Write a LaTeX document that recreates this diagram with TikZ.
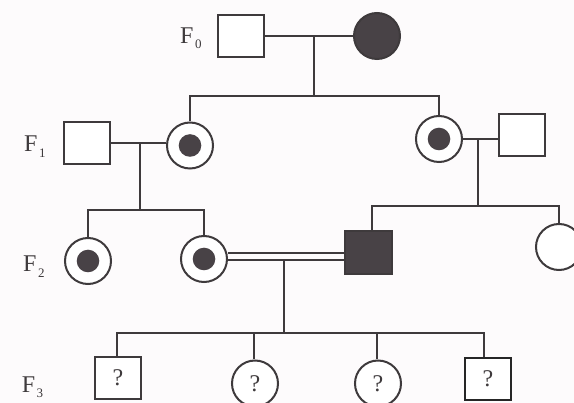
\documentclass[tikz,border=0pt]{standalone}
\usepackage{fontspec}
\setmainfont{Liberation Serif}
\definecolor{ln}{RGB}{62,58,60}
\definecolor{aff}{RGB}{72,66,70}
\definecolor{bg}{RGB}{253,251,252}
\newcommand{\gensub}[1]{F\kern1.5pt\raisebox{-5.5pt}{\fontsize{13}{13}\selectfont #1}}
\tikzset{
  ped/.style={draw=ln, line width=2pt},
  male/.style={ped, rectangle, minimum width=46pt, minimum height=42pt, inner sep=0pt, fill=white,
    font=\fontsize{24}{24}\selectfont, text=ln},
  female/.style={ped, circle, minimum size=46pt, inner sep=0pt, fill=white,
    font=\fontsize{24}{24}\selectfont, text=ln},
  affm/.style={male, fill=aff},
  afff/.style={female, fill=aff},
  carrier/.style={female, path picture={\fill[aff] (path picture bounding box.center) circle (11.3pt);}},
  conn/.style={draw=ln, line width=2pt},
  dbl/.style={draw=ln, line width=2pt, double=bg, double distance=5pt},
  gen/.style={anchor=base west, inner sep=0pt, font=\fontsize{24}{24}\selectfont, text=ln}
}
\begin{document}
\begin{tikzpicture}[x=1pt, y=-1pt]
  \useasboundingbox (0,0) rectangle (574,403);
  \fill[bg] (0,0) rectangle (574,403);

  % generation labels
  \node[gen] (g0) at (180,43.3) {\gensub{0}};
  \node[gen] (g1) at (24,151.7) {\gensub{1}};
  \node[gen] (g2) at (23,271.7) {\gensub{2}};
  \node[gen] (g3) at (21.7,392.5) {\gensub{3}};

  % F0
  \node[male] (m0) at (241,36) {};
  \node[afff] (f0) at (377,36) {};
  % F1
  \node[male] (m1a) at (87,143) {};
  \node[carrier] (f1a) at (190,145.5) {};
  \node[carrier] (f1b) at (439,139) {};
  \node[male] (m1b) at (522,135) {};
  % F2
  \node[carrier] (f2a) at (88,261) {};
  \node[carrier] (f2b) at (204,259) {};
  \node[affm, minimum width=47pt, minimum height=43pt] (a2) at (368.5,252.5) {};
  \node[female] (f2r) at (559,247) {};
  % F3
  \node[male] (s1) at (118,378) {?};
  \node[female] (c2) at (255,383.5) {?};
  \node[female] (c3) at (378,383.5) {?};
  \node[male, line width=2.2pt, draw=black!85] (s4) at (488,379) {?};

  % coordinates of line junctions
  \coordinate (u0) at (314,36);
  \coordinate (d0) at (314,96);
  \coordinate (u1a) at (140,143);
  \coordinate (d1a) at (140,210);
  \coordinate (u1b) at (478,139);
  \coordinate (d1b) at (478,206);
  \coordinate (dm) at (284,256.5);
  \coordinate (u2) at (284,260);
  \coordinate (d2) at (284,333);

  % F0 mating and sibship
  \draw[conn] (m0.east) -- (m0.east -| f0.west);
  \draw[conn] (u0) -- (d0);
  \draw[conn] (f1a.north) |- (d0) -| (f1b.north);

  % F1 left mating and sibship
  \draw[conn] (m1a.east) -- (m1a.east -| f1a.west);
  \draw[conn] (u1a) -- (d1a);
  \draw[conn] (f2a.north) |- (d1a) -| (f2b.north);

  % F1 right mating and sibship
  \draw[conn] (f1b.east) -- (f1b.east -| m1b.west);
  \draw[conn] (u1b) -- (d1b);
  \draw[conn] ([xshift=3.5pt]a2.north) |- (d1b) -| (f2r.north);

  % consanguineous mating
  \draw[dbl] (f2b.east |- dm) -- (a2.west |- dm);
  \draw[conn] (u2) -- (d2);
  \draw[conn] ([xshift=-1pt]s1.north) |- (d2) -| ([xshift=-4pt]s4.north);
  \draw[conn] ([xshift=-1pt]c2.north) -- ([xshift=-1pt]c2.north |- d2);
  \draw[conn] ([xshift=-1pt]c3.north) -- ([xshift=-1pt]c3.north |- d2);
\end{tikzpicture}
\end{document}
